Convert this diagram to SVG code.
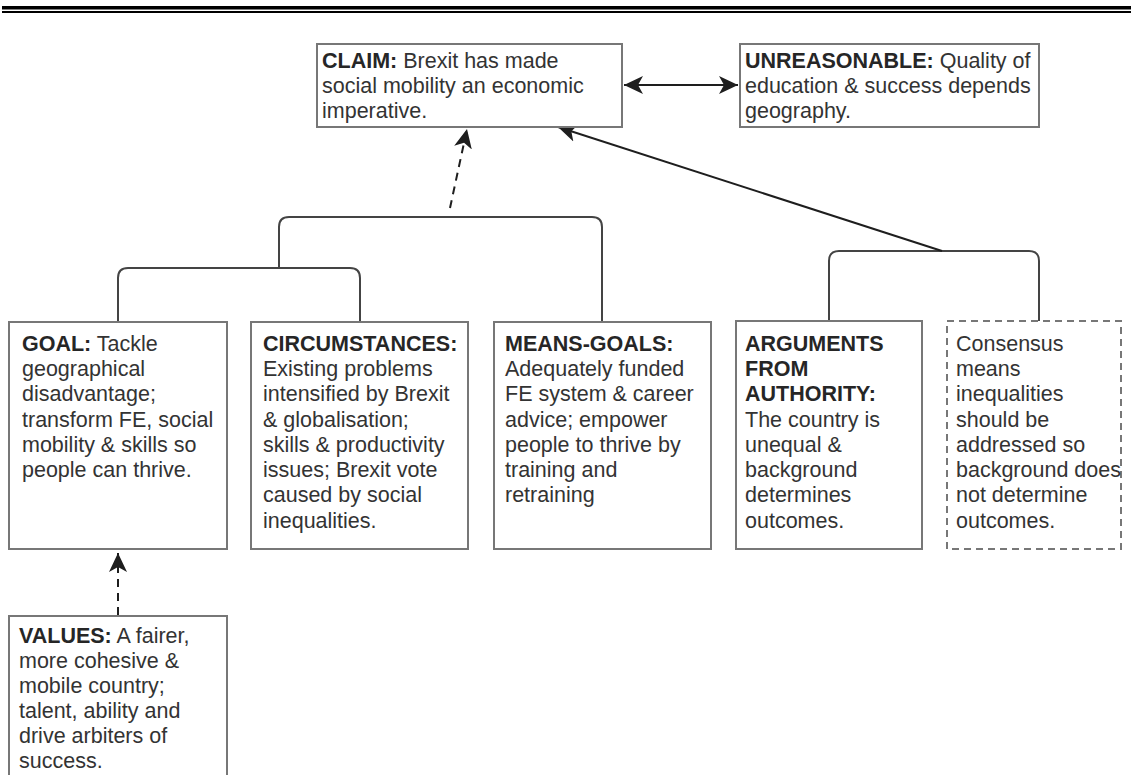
<svg xmlns="http://www.w3.org/2000/svg" width="1133" height="775" viewBox="0 0 1133 775">
  <defs>
    <marker id="head" markerUnits="userSpaceOnUse" markerWidth="20" markerHeight="20" refX="19" refY="10" orient="auto-start-reverse" viewBox="0 0 20 20">
      <path d="M0,1 L19,10 L0,19 L5,10 z" fill="#1e1e1e"/>
    </marker>
    <style>
      .box { fill: #ffffff; stroke: #777777; stroke-width: 2; }
      .dbox { fill: #ffffff; stroke: #777777; stroke-width: 2; stroke-dasharray: 7 5; }
      .t { font-family: "Liberation Sans", Arial, sans-serif; font-size: 21.5px; fill: #333333; }
      .b { font-weight: bold; fill: #262626; }
      .bracket { fill: none; stroke: #444444; stroke-width: 2; }
      .arrow { fill: none; stroke: #1e1e1e; stroke-width: 2; }
      .dash { stroke-dasharray: 8 6; }
    </style>
  </defs>

  <rect x="0" y="0" width="1133" height="775" fill="#ffffff"/>

  <!-- page rule -->
  <rect x="2" y="6" width="1129" height="3.5" fill="#000000"/>
  <rect x="2" y="11" width="1129" height="2" fill="#000000"/>

  <!-- connectors -->
  <g id="connectors">
    <path class="bracket" d="M279,267 V227 Q279,217 289,217 H592 Q602,217 602,227 V322"/>
    <path class="bracket" d="M118,322 V278 Q118,268 128,268 H350 Q360,268 360,278 V322"/>
    <path class="bracket" d="M829,321 V261 Q829,251 839,251 H1029 Q1039,251 1039,261 V321"/>
    <path class="arrow" d="M624,85 H738" marker-start="url(#head)" marker-end="url(#head)"/>
    <path class="arrow dash" d="M450,208 L467,129" marker-end="url(#head)"/>
    <path class="arrow" d="M942,251 L558,127" marker-end="url(#head)"/>
    <path class="arrow dash" d="M118,615 V553" marker-end="url(#head)"/>
  </g>

  <g id="claim">
    <rect class="box" x="317" y="44" width="305" height="83"/>
    <text class="t" x="322" y="67.5"><tspan class="b">CLAIM:</tspan> Brexit has made</text>
    <text class="t" x="322" y="93">social mobility an economic</text>
    <text class="t" x="322" y="118">imperative.</text>
  </g>

  <g id="unreasonable">
    <rect class="box" x="740" y="44" width="299" height="83"/>
    <text class="t" x="745" y="67.5"><tspan class="b">UNREASONABLE:</tspan> Quality of</text>
    <text class="t" x="745" y="93">education &amp; success depends</text>
    <text class="t" x="745" y="118">geography.</text>
  </g>

  <g id="goal">
    <rect class="box" x="9" y="322" width="218" height="227"/>
    <text class="t" x="22" y="350.5"><tspan class="b">GOAL:</tspan> Tackle</text>
    <text class="t" x="22" y="375.8">geographical</text>
    <text class="t" x="22" y="401">disadvantage;</text>
    <text class="t" x="22" y="426.5">transform FE, social</text>
    <text class="t" x="22" y="451.8">mobility &amp; skills so</text>
    <text class="t" x="22" y="477">people can thrive.</text>
  </g>

  <g id="circumstances">
    <rect class="box" x="251" y="322" width="217" height="227"/>
    <text class="t b" x="263" y="350.5">CIRCUMSTANCES:</text>
    <text class="t" x="263" y="375.8">Existing problems</text>
    <text class="t" x="263" y="401">intensified by Brexit</text>
    <text class="t" x="263" y="426.5">&amp; globalisation;</text>
    <text class="t" x="263" y="451.8">skills &amp; productivity</text>
    <text class="t" x="263" y="477">issues; Brexit vote</text>
    <text class="t" x="263" y="502.3">caused by social</text>
    <text class="t" x="263" y="527.6">inequalities.</text>
  </g>

  <g id="means-goals">
    <rect class="box" x="494" y="322" width="217" height="227"/>
    <text class="t b" x="505" y="350.5">MEANS-GOALS:</text>
    <text class="t" x="505" y="375.8">Adequately funded</text>
    <text class="t" x="505" y="401">FE system &amp; career</text>
    <text class="t" x="505" y="426.5">advice; empower</text>
    <text class="t" x="505" y="451.8">people to thrive by</text>
    <text class="t" x="505" y="477">training and</text>
    <text class="t" x="505" y="502.3">retraining</text>
  </g>

  <g id="authority">
    <rect class="box" x="736" y="321" width="186" height="228"/>
    <text class="t b" x="745" y="350.5">ARGUMENTS</text>
    <text class="t b" x="745" y="375.8">FROM</text>
    <text class="t b" x="745" y="401">AUTHORITY:</text>
    <text class="t" x="745" y="426.5">The country is</text>
    <text class="t" x="745" y="451.8">unequal &amp;</text>
    <text class="t" x="745" y="477">background</text>
    <text class="t" x="745" y="502.3">determines</text>
    <text class="t" x="745" y="527.6">outcomes.</text>
  </g>

  <g id="consensus">
    <rect class="dbox" x="947" y="321" width="174" height="228"/>
    <text class="t" x="956" y="350.5">Consensus</text>
    <text class="t" x="956" y="375.8">means</text>
    <text class="t" x="956" y="401">inequalities</text>
    <text class="t" x="956" y="426.5">should be</text>
    <text class="t" x="956" y="451.8">addressed so</text>
    <text class="t" x="956" y="477">background does</text>
    <text class="t" x="956" y="502.3">not determine</text>
    <text class="t" x="956" y="527.6">outcomes.</text>
  </g>

  <g id="values">
    <path class="box" d="M9,780 V616 H227 V780"/>
    <text class="t" x="19" y="643"><tspan class="b">VALUES:</tspan> A fairer,</text>
    <text class="t" x="19" y="668">more cohesive &amp;</text>
    <text class="t" x="19" y="693">mobile country;</text>
    <text class="t" x="19" y="718">talent, ability and</text>
    <text class="t" x="19" y="743">drive arbiters of</text>
    <text class="t" x="19" y="768">success.</text>
  </g>
</svg>
